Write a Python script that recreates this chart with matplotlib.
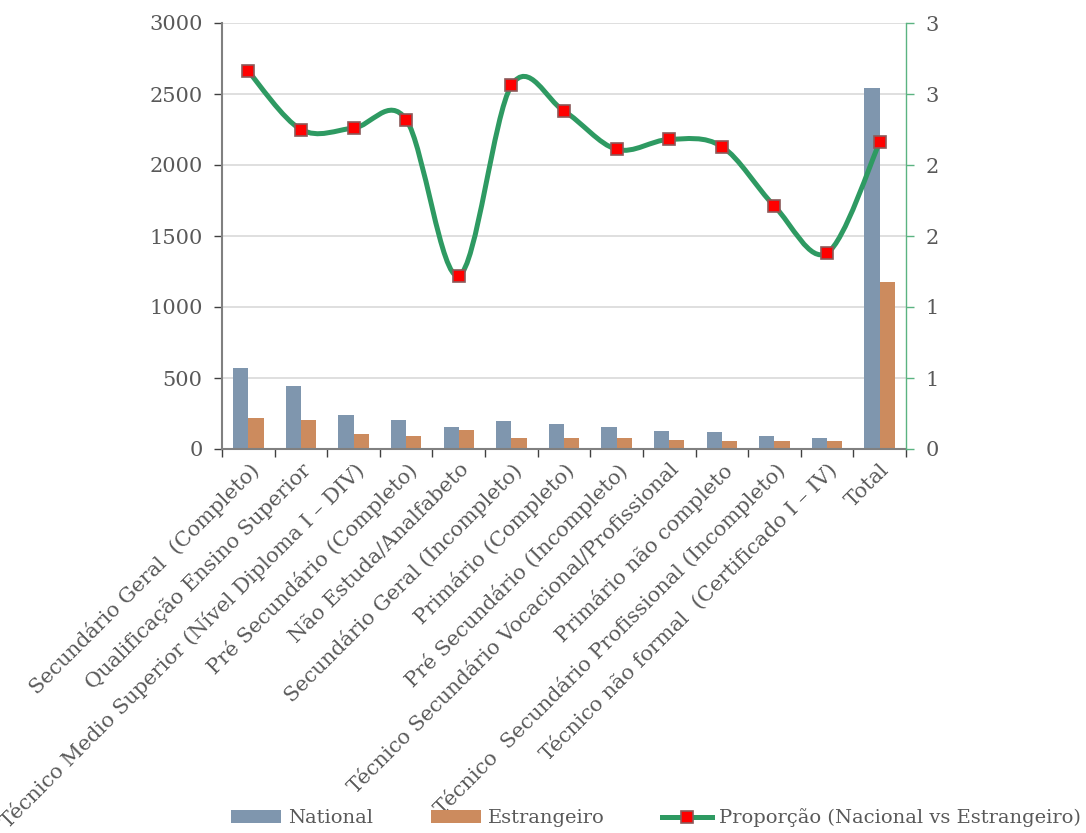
import math
import matplotlib
matplotlib.use("Agg")
import matplotlib.pyplot as plt
from matplotlib.path import Path
from matplotlib.patches import PathPatch, Patch
from matplotlib.lines import Line2D
from matplotlib.ticker import FuncFormatter, MultipleLocator, FixedLocator

categories = [
    "Secundário Geral  (Completo)",
    "Qualificação Ensino Superior",
    "Técnico Medio Superior (Nível Diploma I – DIV)",
    "Pré Secundário (Completo)",
    "Não Estuda/Analfabeto",
    "Secundário Geral (Incompleto)",
    "Primário (Completo)",
    "Pré Secundário (Incompleto)",
    "Técnico Secundário Vocacional/Profissional",
    "Primário não completo",
    "Técnico  Secundário Profissional (Incompleto)",
    "Técnico não formal  (Certificado I – IV)",
    "Total",
]
national = [572, 444, 237, 204, 155, 195, 176, 155, 127, 117, 92, 75, 2540]
estrangeiro = [218, 202, 106, 89, 131, 77, 75, 74, 61, 56, 56, 56, 1178]
proporcao = [2.66, 2.25, 2.26, 2.32, 1.22, 2.56, 2.38, 2.11, 2.18, 2.13, 1.71, 1.38, 2.16]

C_NAT = "#7F96AE"
C_EST = "#CC8B5E"
C_LINE = "#2E9A62"
C_TXT = "#595959"
FONT = "DejaVu Serif"
FS = 15
FS_LEG = 14

plt.rcParams["font.family"] = [FONT]

fig = plt.figure(figsize=(10.86, 8.33), dpi=100)
ax = fig.add_axes([222 / 1086, 1 - 449 / 833, (906 - 222) / 1086, (449 - 23) / 833])

n = len(categories)
x = list(range(n))
w = 0.29
ax.bar([i - w / 2 for i in x], national, width=w, color=C_NAT, zorder=2)
ax.bar([i + w / 2 for i in x], estrangeiro, width=w, color=C_EST, zorder=2)

ax.set_xlim(-0.5, n - 0.5)
ax.set_ylim(0, 3000)
ax.yaxis.set_major_locator(MultipleLocator(500))
ax.grid(axis="y", color="#D9D9D9", lw=1.2, zorder=0)
ax.set_axisbelow(True)

ax.set_xticks(x)
ax.set_xticklabels(categories, rotation=45, ha="right", va="top",
                   rotation_mode="anchor", fontsize=FS, color=C_TXT)
ax.xaxis.set_minor_locator(FixedLocator([i - 0.5 for i in range(n + 1)]))
ax.tick_params(axis="x", which="major", length=0, pad=8)
ax.tick_params(axis="x", which="minor", length=6, width=1, color="#404040", direction="out")
ax.tick_params(axis="y", length=6, width=1, color="#404040", labelsize=FS,
               labelcolor=C_TXT, pad=8)

for s in ("top", "right"):
    ax.spines[s].set_visible(False)
ax.spines["left"].set_color("#808080")
ax.spines["left"].set_linewidth(1.5)
ax.spines["bottom"].set_color("#808080")
ax.spines["bottom"].set_linewidth(1.5)

ax2 = ax.twinx()
ax2.set_ylim(0, 3)
ax2.yaxis.set_major_locator(MultipleLocator(0.5))
ax2.yaxis.set_major_formatter(FuncFormatter(lambda v, p: str(int(math.floor(v + 0.5)))))
ax2.tick_params(axis="y", length=6, width=1, color="#5BB381", labelsize=FS,
                labelcolor=C_TXT, pad=8)
for s in ("top", "left", "bottom"):
    ax2.spines[s].set_visible(False)
ax2.spines["right"].set_color("#5BB381")
ax2.spines["right"].set_linewidth(1)

# smoothed line through the proportion values (cubic Bezier segments)
pts = list(zip(x, proporcao))
verts = [pts[0]]
codes = [Path.MOVETO]
for i in range(n - 1):
    p0 = pts[i - 1] if i > 0 else pts[i]
    p1 = pts[i]
    p2 = pts[i + 1]
    p3 = pts[i + 2] if i + 2 < n else pts[i + 1]
    c1 = (p1[0] + (p2[0] - p0[0]) / 6, p1[1] + (p2[1] - p0[1]) / 6)
    c2 = (p2[0] - (p3[0] - p1[0]) / 6, p2[1] - (p3[1] - p1[1]) / 6)
    verts += [c1, c2, p2]
    codes += [Path.CURVE4] * 3
ax2.add_patch(PathPatch(Path(verts, codes), fill=False, edgecolor=C_LINE,
                        lw=3.6, capstyle="round", joinstyle="round", zorder=3))
ax2.plot(x, proporcao, ls="none", marker="s", ms=8, mfc="#FF0000",
         mec="#8B5A5A", mew=1.2, zorder=4)

handles = [
    Patch(facecolor=C_NAT, edgecolor="none", label="National"),
    Patch(facecolor=C_EST, edgecolor="none", label="Estrangeiro"),
    Line2D([], [], color=C_LINE, lw=3.6, marker="s", ms=8, mfc="#FF0000",
           mec="#8B5A5A", mew=1.2, label="Proporção (Nacional vs Estrangeiro)"),
]
leg = fig.legend(handles=handles, loc="center", bbox_to_anchor=(656 / 1086, 1 - 818 / 833),
                 ncol=3, frameon=False, fontsize=FS_LEG, handlelength=2.57,
                 handleheight=0.63, columnspacing=2.95, handletextpad=0.36,
                 borderaxespad=0, borderpad=0)
for t in leg.get_texts():
    t.set_color(C_TXT)

fig.savefig("out.png", dpi=100)
